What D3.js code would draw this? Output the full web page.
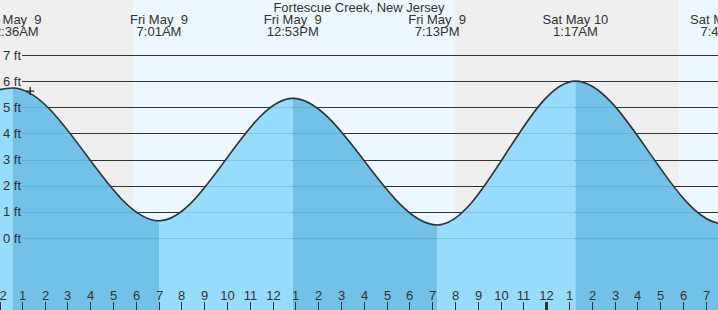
<!DOCTYPE html>
<html lang="en">

<head>
    <meta charset="utf-8" />
    <title>Fortescue Creek, New Jersey</title>
    <script src="https://d3js.org/d3.v7.min.js"></script>
    <style>
        body {
            margin: 0;
            background: #fff;
        }

        svg text {
            font-family: "Liberation Sans", Arial, sans-serif;
            font-size: 13px;
            fill: #333;
            white-space: pre;
        }
    </style>
</head>

<body>
    <div id="chart"></div>
    <script>
        (function(d3) {
            'use strict';

            // tide highs and lows (local time, feet)
            var tideTimes = ['2025-05-08T18:22', '2025-05-09T00:36', '2025-05-09T07:01', '2025-05-09T12:53',
                '2025-05-09T19:13', '2025-05-10T01:17', '2025-05-10T07:45', '2025-05-10T13:58'];
            var tideHeights = [0.6, 5.74, 0.66, 5.34, 0.5, 6.0, 0.55, 5.5];

            // sun up / sun down
            var sunTimes = ['2025-05-09T05:53', '2025-05-09T20:00', '2025-05-10T05:50'];

            var yTicks = [0, 1, 2, 3, 4, 5, 6, 7];
            var title = 'Fortescue Creek, New Jersey';

            // current position marker
            var nowTime = '2025-05-09T01:22';
            var nowHeight = 5.62;

            var width = 718;
            var height = 310;

            var parse = d3.isoParse;
            var tides = tideTimes.map(function(t, i) {
                return { time: new Date(t), h: tideHeights[i] };
            });

            var x = d3.scaleTime()
                .domain([new Date('2025-05-09T00:00'), new Date('2025-05-10T08:00')])
                .range([-1, -1 + 22.8 * 32]);

            var y = d3.scaleLinear()
                .domain([0, 7])
                .range([238, 55]);

            var svg = d3.select('#chart')
                .append('svg')
                .attr('width', width)
                .attr('height', height);

            // night / day background
            var sun = sunTimes.map(function(t) { return x(new Date(t)); });
            var edges = [0].concat(sun, [width]);
            svg.selectAll('rect.sky')
                .data(d3.pairs(edges))
                .enter()
                .append('rect')
                .attr('class', 'sky')
                .attr('x', function(d) { return d[0]; })
                .attr('y', 0)
                .attr('width', function(d) { return d[1] - d[0]; })
                .attr('height', height)
                .attr('fill', function(d, i) { return i % 2 === 0 ? '#efefef' : '#edf7ff'; });

            // grid lines
            svg.selectAll('line.grid')
                .data(yTicks)
                .enter()
                .append('line')
                .attr('class', 'grid')
                .attr('x1', 22)
                .attr('x2', width)
                .attr('y1', function(d) { return Math.round(y(d)) + 0.5; })
                .attr('y2', function(d) { return Math.round(y(d)) + 0.5; })
                .attr('stroke', '#333')
                .attr('stroke-width', 1);

            var area = d3.area()
                .x(function(d) { return x(d.time); })
                .y0(height)
                .y1(function(d) { return y(d.h); })
                .curve(d3.curveMonotoneX);

            var line = d3.line()
                .x(function(d) { return x(d.time); })
                .y(function(d) { return y(d.h); })
                .curve(d3.curveMonotoneX);

            svg.append('clipPath')
                .attr('id', 'water')
                .append('path')
                .attr('d', area(tides));

            // rising = light, falling = dark
            svg.append('g')
                .attr('clip-path', 'url(#water)')
                .selectAll('rect')
                .data(d3.pairs(tides))
                .enter()
                .append('rect')
                .attr('x', function(d) { return x(d[0].time); })
                .attr('y', 0)
                .attr('width', function(d) { return x(d[1].time) - x(d[0].time); })
                .attr('height', height)
                .attr('fill', function(d) { return d[1].h > d[0].h ? '#97dcfd' : '#73c1e6'; });

            svg.append('g')
                .attr('clip-path', 'url(#water)')
                .selectAll('line')
                .data(yTicks)
                .enter()
                .append('line')
                .attr('x1', 22)
                .attr('x2', width)
                .attr('y1', function(d) { return Math.round(y(d)) + 0.5; })
                .attr('y2', function(d) { return Math.round(y(d)) + 0.5; })
                .attr('stroke', 'rgba(0, 70, 130, 0.14)');

            svg.append('path')
                .attr('d', line(tides))
                .attr('fill', 'none')
                .attr('stroke', '#333')
                .attr('stroke-width', 1.6);

            // + marker
            var mx = x(new Date(nowTime));
            var my = y(nowHeight);
            svg.append('path')
                .attr('d', 'M' + (mx - 4) + ',' + my + 'H' + (mx + 4) + 'M' + mx + ',' + (my - 4) + 'V' + (my + 4))
                .attr('stroke', '#222')
                .attr('stroke-width', 1.3);

            // y labels
            svg.selectAll('text.ylab')
                .data(yTicks)
                .enter()
                .append('text')
                .attr('class', 'ylab')
                .attr('x', 3)
                .attr('y', function(d) { return y(d) + 4.5; })
                .text(function(d) { return d + ' ft'; });

            // title and tide labels
            svg.append('text')
                .attr('x', 359)
                .attr('y', 12)
                .attr('text-anchor', 'middle')
                .text(title);

            var dayFmt = d3.timeFormat('%a %b %e');
            var timeFmt = d3.timeFormat('%-I:%M%p');
            var shown = tides.filter(function(d) {
                return x(d.time) > -60 && x(d.time) < width + 60;
            });
            var lab = svg.selectAll('g.tlab')
                .data(shown)
                .enter()
                .append('g')
                .attr('class', 'tlab')
                .attr('transform', function(d) { return 'translate(' + x(d.time) + ',0)'; });
            lab.append('text')
                .attr('y', 24)
                .attr('text-anchor', 'middle')
                .text(function(d) { return dayFmt(d.time); });
            lab.append('text')
                .attr('y', 36)
                .attr('text-anchor', 'middle')
                .text(function(d) { return timeFmt(d.time); });

            // hour axis at the bottom
            var hours = x.ticks(d3.timeHour.every(1));
            var hourFmt = d3.timeFormat('%-I');
            var ht = svg.selectAll('g.hour')
                .data(hours)
                .enter()
                .append('g')
                .attr('class', 'hour')
                .attr('transform', function(d) { return 'translate(' + Math.round(x(d)) + ',0)'; });
            ht.append('line')
                .attr('x1', 0.5)
                .attr('x2', 0.5)
                .attr('y1', 302)
                .attr('y2', height)
                .attr('stroke', '#333')
                .attr('stroke-width', function(d) { return d.getHours() === 0 ? 3 : 1; });
            ht.append('text')
                .attr('x', 0.5)
                .attr('y', 300)
                .attr('text-anchor', 'middle')
                .text(function(d) { return hourFmt(d); });
        })(window.d3);
    </script>
</body>

</html>
